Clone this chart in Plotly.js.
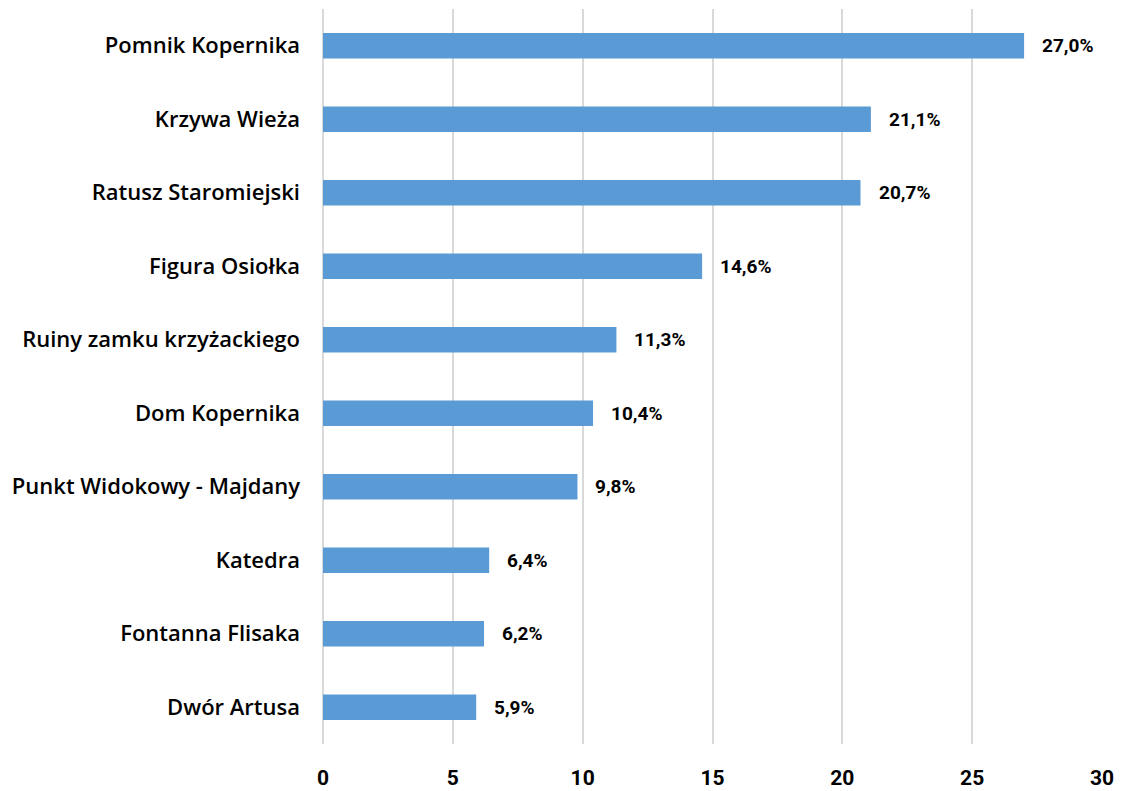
<!DOCTYPE html>
<html>
<head>
<meta charset="utf-8">
<script src="https://cdn.plot.ly/plotly-3.0.1.min.js"></script>
<style>html,body{margin:0;padding:0;background:#fff;}#chart{width:1121px;height:791px;}</style>
</head>
<body>
<div id="chart"></div>
<script>
const categories = ["Pomnik Kopernika","Krzywa Wieża","Ratusz Staromiejski","Figura Osiołka","Ruiny zamku krzyżackiego","Dom Kopernika","Punkt Widokowy - Majdany","Katedra","Fontanna Flisaka","Dwór Artusa"];
const values = [27.0, 21.1, 20.7, 14.6, 11.3, 10.4, 9.8, 6.4, 6.2, 5.9];
const valueLabels = values.map(v => v.toFixed(1).replace('.', ',') + '%');
const tickVals = [0, 5, 10, 15, 20, 25, 30];

const LABEL_FONT = '"Open Sans", Roboto, sans-serif';
const NUM_FONT = 'Roboto, "Open Sans", sans-serif';

const trace = {
  type: 'bar',
  orientation: 'h',
  x: values,
  y: categories,
  width: 0.35,
  marker: {color: '#5B9BD5'},
  hoverinfo: 'x+y'
};

const annotations = values.map((v, i) => ({
  x: v, y: categories[i], xref: 'x', yref: 'y',
  text: valueLabels[i], showarrow: false,
  xanchor: 'left', yanchor: 'middle', xshift: 16,
  font: {family: NUM_FONT, size: 19, color: '#000', weight: 700}
}));

const layout = {
  width: 1121, height: 791,
  margin: {l: 323, r: 19, t: 9, b: 47},
  paper_bgcolor: '#fff', plot_bgcolor: '#fff',
  showlegend: false,
  bargap: 0.65,
  font: {family: LABEL_FONT, color: '#000'},
  xaxis: {
    range: [0, 30], tickvals: tickVals, ticktext: tickVals.map(String),
    showgrid: true, gridcolor: '#d9d9d9', gridwidth: 2,
    zeroline: true, zerolinecolor: '#d9d9d9', zerolinewidth: 2,
    showline: false, ticks: 'outside', ticklen: 15, tickcolor: 'rgba(0,0,0,0)',
    tickfont: {family: NUM_FONT, size: 21, color: '#000', weight: 700},
    fixedrange: true
  },
  yaxis: {
    type: 'category', autorange: 'reversed',
    showgrid: false, zeroline: false, showline: false,
    ticks: '', ticklabelstandoff: 22,
    tickfont: {family: LABEL_FONT, size: 22, color: '#000', weight: 600},
    fixedrange: true
  },
  annotations: annotations
};

Plotly.newPlot('chart', [trace], layout, {displayModeBar: false, staticPlot: true});
</script>
</body>
</html>
